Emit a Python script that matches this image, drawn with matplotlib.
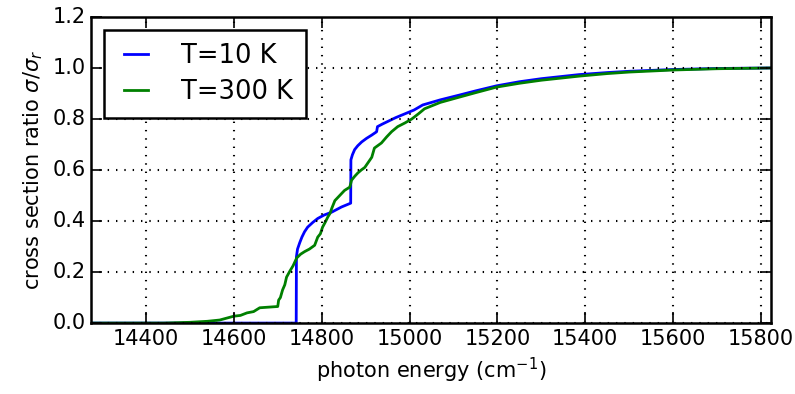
import numpy as np
import matplotlib
matplotlib.use("Agg")
import matplotlib.pyplot as plt

# cross section ratio
e_10K = [14275, 14742, 14742.5, 14745, 14750, 14755, 14761, 14768, 14780, 14791,
         14805, 14823, 14845, 14866, 14866.5, 14870, 14875, 14882, 14891, 14902,
         14914, 14925, 14927, 14938, 14950, 14968, 14989, 15010, 15030, 15070,
         15114, 15150, 15198, 15250, 15300, 15386, 15450, 15500, 15600, 15700,
         15823]
s_10K = [0.0, 0.0, 0.26, 0.29, 0.315, 0.337, 0.358, 0.376, 0.395, 0.41,
         0.423, 0.435, 0.455, 0.47, 0.64, 0.66, 0.68, 0.695, 0.71, 0.724,
         0.737, 0.75, 0.77, 0.78, 0.79, 0.805, 0.82, 0.835, 0.855, 0.875,
         0.894, 0.91, 0.93, 0.946, 0.958, 0.974, 0.982, 0.987, 0.994, 0.998,
         1.0]

e_300K = [14275, 14440, 14500, 14540, 14568, 14600, 14615, 14630, 14645, 14659,
          14700, 14702, 14706, 14711, 14716, 14720, 14728, 14735, 14743, 14752,
          14761, 14772, 14784, 14791, 14797, 14802, 14808, 14814, 14819, 14823,
          14830, 14841, 14852, 14864, 14868, 14875, 14882, 14890, 14898, 14906,
          14914, 14920, 14928, 14936, 14948, 14959, 14966, 14973, 14990, 15005,
          15020, 15034, 15070, 15114, 15150, 15198, 15250, 15300, 15386, 15450,
          15500, 15600, 15700, 15823]
s_300K = [0.0, 0.0, 0.003, 0.007, 0.012, 0.027, 0.03, 0.04, 0.045, 0.06,
          0.065, 0.09, 0.10, 0.13, 0.15, 0.18, 0.205, 0.225, 0.255, 0.27,
          0.28, 0.29, 0.305, 0.337, 0.35, 0.376, 0.395, 0.416, 0.43, 0.45,
          0.48, 0.50, 0.52, 0.533, 0.56, 0.575, 0.588, 0.60, 0.61, 0.63,
          0.65, 0.686, 0.696, 0.706, 0.73, 0.75, 0.76, 0.77, 0.785, 0.80,
          0.82, 0.84, 0.865, 0.886, 0.903, 0.925, 0.94, 0.952, 0.968, 0.978,
          0.984, 0.992, 0.997, 1.0]

plt.style.use('classic')
plt.rcParams['font.size'] = 15
plt.rcParams['axes.linewidth'] = 1.8
plt.rcParams['mathtext.fontset'] = 'dejavusans'

fig = plt.figure(figsize=(7.95, 3.94), dpi=100, facecolor='white')
ax = fig.add_axes([0.1145, 0.180, 0.8555, 0.777])

ax.plot(e_10K, s_10K, color='b', lw=2, label='T=10 K')
ax.plot(e_300K, s_300K, color='g', lw=2, label='T=300 K')

ax.set_xlim(14275, 15823)
ax.set_ylim(0, 1.2)
ax.set_xticks(np.arange(14400, 15801, 200))
ax.set_yticks(np.arange(0, 1.21, 0.2))
ax.tick_params(labelsize=15, length=8, width=1.2)
ax.grid(True, color='k', linestyle=(0, (1, 5)), lw=1.5)
ax.set_xlabel('photon energy (cm$^{-1}$)', fontsize=15)
ax.set_ylabel(r'cross section ratio $\sigma/\sigma_r$', fontsize=15)
leg = ax.legend(loc='upper left', fontsize=18.5, fancybox=False, framealpha=1,
                borderpad=0.5, labelspacing=0.4, handlelength=1.5,
                handletextpad=1.0, borderaxespad=0.5)
leg.get_frame().set_linewidth(1.8)

fig.savefig('out.png', dpi=100, facecolor='white')
